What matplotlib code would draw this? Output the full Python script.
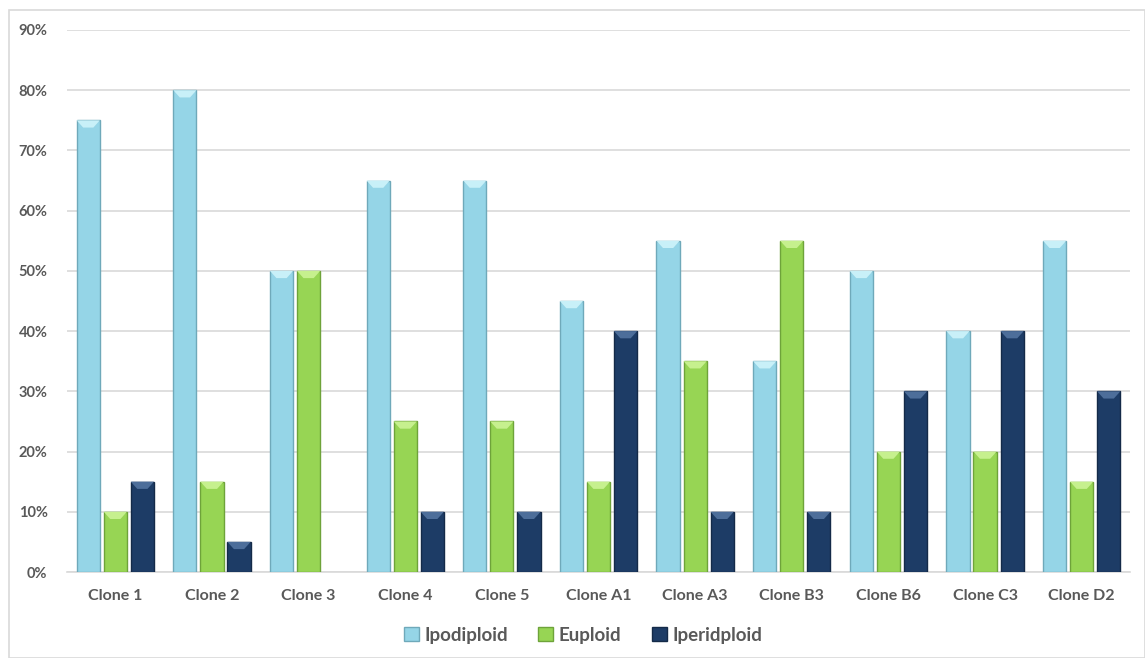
import numpy as np
import matplotlib.pyplot as plt
from matplotlib.patches import Polygon, Rectangle
from matplotlib.ticker import FuncFormatter

clones = ["Clone 1", "Clone 2", "Clone 3", "Clone 4", "Clone 5", "Clone A1",
          "Clone A3", "Clone B3", "Clone B6", "Clone C3", "Clone D2"]
ipodiploid = [75, 80, 50, 65, 65, 45, 55, 35, 50, 40, 55]
euploid = [10, 15, 50, 25, 25, 15, 35, 55, 20, 20, 15]
iperidploid = [15, 5, 0, 10, 10, 40, 10, 10, 30, 40, 30]

series = [
    ("Ipodiploid", ipodiploid, "#95D5E7", "#6FA9BA", "#C8F0F8"),
    ("Euploid", euploid, "#97D554", "#6EA33A", "#C6F08E"),
    ("Iperidploid", iperidploid, "#1D3C66", "#142A48", "#4D6E9A"),
]

plt.rcParams['font.family'] = ['Lato', 'DejaVu Sans']

fig = plt.figure(figsize=(11.45, 6.58), dpi=100)
# chart frame
fig.patches.append(Rectangle((9 / 1145, 0), 1 - 9 / 1145, 1 - 10 / 658,
                             transform=fig.transFigure, fill=False,
                             edgecolor="#D9D9D9", linewidth=1.2))
ax = fig.add_axes([67 / 1145, 86 / 658, 1063 / 1145, 542 / 658])

x = np.arange(len(clones))
width = 0.24
step = 0.28

handles = []
for i, (name, vals, face, edge, light) in enumerate(series):
    xs = x + (i - 1) * step
    fr = np.array(vals) / 100
    bars = ax.bar(xs, fr, width, color=face, edgecolor=edge, linewidth=1.0,
                  zorder=3, label=name)
    handles.append(bars)
    # bevel highlight on top of each bar
    for b in bars:
        h = b.get_height()
        if h <= 0:
            b.set_edgecolor("none")
            continue
        x0 = b.get_x()
        x1 = x0 + b.get_width()
        d = b.get_width() * 0.28
        cap = 0.012
        ax.add_patch(Polygon([(x0, h), (x1, h), (x1 - d, h - cap), (x0 + d, h - cap)],
                             closed=True, facecolor=light, edgecolor="none", zorder=4))

ax.set_xlim(-0.5, len(clones) - 0.5)
ax.set_ylim(0, 0.9)
ax.set_yticks(np.arange(0, 0.91, 0.1))
ax.yaxis.set_major_formatter(FuncFormatter(lambda v, p: f"{v * 100:.0f}%"))
ax.set_xticks(x)
ax.set_xticklabels(clones)
ax.grid(axis="y", color="#D9D9D9", linewidth=1.2, zorder=0)
ax.tick_params(axis="both", length=0, labelcolor="#595959")
ax.tick_params(axis="x", pad=12, labelsize=11.5)
ax.tick_params(axis="y", pad=14, labelsize=10.5)
for lbl in ax.get_xticklabels() + ax.get_yticklabels():
    lbl.set_fontweight("bold")
for s in ["top", "right", "left"]:
    ax.spines[s].set_visible(False)
ax.spines["bottom"].set_color("#D9D9D9")
ax.spines["bottom"].set_linewidth(1.2)

leg = fig.legend(handles=handles, loc="center", bbox_to_anchor=(583 / 1145, 1 - 635 / 658),
                 ncol=3, frameon=False, handlelength=0.8, handleheight=0.8,
                 handletextpad=0.3, columnspacing=1.6,
                 prop={"size": 13.5, "weight": "bold"})
for t in leg.get_texts():
    t.set_color("#595959")

fig.savefig("out.png", dpi=100)
